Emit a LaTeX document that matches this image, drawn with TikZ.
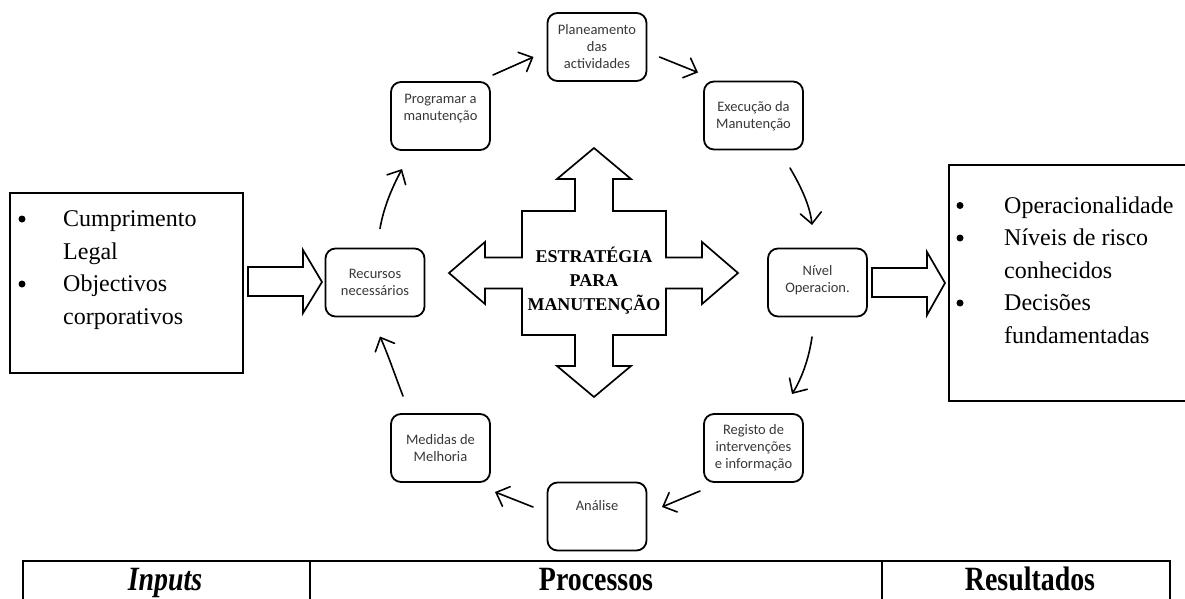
\documentclass[tikz,border=0pt]{standalone}
\usepackage{fontspec}
\setmainfont{Liberation Serif}
\newfontfamily\boxfont{Carlito}
\usetikzlibrary{arrows.meta,calc}
\begin{document}
\begin{tikzpicture}[x=1pt,y=-1pt,
  box/.style={draw, line width=1.8pt, rounded corners=10pt,
    minimum width=99pt, minimum height=68pt, inner sep=0pt, outer sep=0pt},
  boxtext/.style={font=\boxfont\fontsize{14.5}{17}\selectfont, text=black!78,
    align=center, inner sep=0pt},
  flow/.style={line width=1.6pt, line cap=round,
    -{Straight Barb[length=11pt,width=21pt,line cap=round]}},
  frame/.style={draw, line width=1.7pt, inner sep=0pt, outer sep=0pt},
  listtext/.style={font=\fontsize{24}{30}\selectfont, anchor=base west, inner sep=0pt},
  bulletmark/.style={circle, fill, inner sep=0pt, minimum size=7pt},
  shapeline/.style={draw, line width=1.7pt, line join=miter, fill=white},
  headtext/.style={font=\bfseries\fontsize{34}{40}\selectfont, anchor=base, inner sep=0pt},
  tableline/.style={line width=1.8pt}
]
\useasboundingbox (0,0) rectangle (1185,599);

% input and result frames
\node[frame, minimum width=233pt, minimum height=180pt] (inbox) at (126.5,283) {};
\node[frame, minimum width=246pt, minimum height=236pt] (outbox) at (1072,283) {};

\node[bulletmark] (inb1) at (22,219) {};
\node[listtext] (in1) at (63,226.5) {Cumprimento};
\node[listtext] (in2) at (63,259) {Legal};
\node[bulletmark] (inb2) at (22,284) {};
\node[listtext] (in3) at (63,291.5) {Objectivos};
\node[listtext] (in4) at (63,324) {corporativos};

\node[bulletmark] (outb1) at (960,205.5) {};
\node[listtext] (out1) at (1004,213) {Operacionalidade};
\node[bulletmark] (outb2) at (960,238) {};
\node[listtext] (out2) at (1004,245.5) {Níveis de risco};
\node[listtext] (out3) at (1004,278) {conhecidos};
\node[bulletmark] (outb3) at (960,303) {};
\node[listtext] (out4) at (1004,310.5) {Decisões};
\node[listtext] (out5) at (1004,343) {fundamentadas};

% process boxes
\node[box] (rec)   at (375,282.5) {};
\node[box] (prog)  at (440.5,116) {};
\node[box] (plan)  at (597,47) {};
\node[box] (exec)  at (753.5,115.5) {};
\node[box] (nivel) at (817.5,282.5) {};
\node[box] (reg)   at (753.5,448) {};
\node[box] (ana)   at (597,516.5) {};
\node[box] (med)   at (440.5,448) {};

\node[boxtext] (rec-t)   at (375,282) {Recursos\\necessários};
\node[boxtext] (prog-t)  at (440.5,108.5) {Programar a\\manutenção};
\node[boxtext] (plan-t)  at (597,47) {Planeamento\\das\\actividades};
\node[boxtext] (exec-t)  at (753.5,116) {Execução da\\Manutenção};
\node[boxtext] (nivel-t) at (817.5,280) {Nível\\Operacion.};
\node[boxtext] (reg-t)   at (753.5,448) {Registo de\\intervenções\\e informação};
\node[boxtext] (ana-t)   at (597,506) {Análise};
\node[boxtext] (med-t)   at (440.5,448.5) {Medidas de\\Melhoria};

% block arrows
\draw[shapeline, shift={(inbox.east)}]
  (5,-16) -- (60,-16) -- (60,-33) -- (79,-1) -- (60,30) -- (60,13) -- (5,13) -- cycle;
\draw[shapeline, shift={(nivel.east)}]
  (5,-14.5) -- (60,-14.5) -- (60,-30.5) -- (78,0.5) -- (60,32.5) -- (60,14.5) -- (5,14.5) -- cycle;

% central four-way arrow
\draw[shapeline, shift={(594,273)}]
  (0,-125) -- (37,-94) -- (19,-94) -- (19,-62) -- (72,-62) -- (72,-15.5) --
  (108,-15.5) -- (108,-31) -- (144,0) -- (108,31) -- (108,15.5) -- (72,15.5) --
  (72,62) -- (19,62) -- (19,93) -- (37,93) -- (0,124) -- (-37,93) -- (-19,93) --
  (-19,62) -- (-72,62) -- (-72,15.5) -- (-109,15.5) -- (-109,31) -- (-145,0) --
  (-109,-31) -- (-109,-15.5) -- (-72,-15.5) -- (-72,-62) -- (-19,-62) --
  (-19,-94) -- (-37,-94) -- cycle;
\node[font=\bfseries\fontsize{18}{24}\selectfont, align=center, inner sep=0pt]
  (strat) at (594,281) {ESTRATÉGIA\\PARA\\MANUTENÇÃO};

% cycle connectors
\draw[flow] ($(rec.north)+(5,-20)$) .. controls +(4,-23) and +(-9,17) .. ($(prog.south)+(-38.5,19)$);
\draw[flow] ($(prog.north east)+(3,-7)$) -- ($(plan.west)+(-14,10)$);
\draw[flow] ($(plan.east)+(13,10)$) -- ($(exec.north west)+(-6,-9)$);
\draw[flow] ($(exec.south)+(36.5,18.5)$) .. controls +(10,17) and +(-2,-20) .. ($(nivel.north)+(-5.5,-23.5)$);
\draw[flow] ($(nivel.south)+(-5.5,20.5)$) .. controls +(-3,21) and +(10,-16) .. ($(reg.north)+(38.5,-20)$);
\draw[flow] ($(reg.south west)+(-4,9)$) -- ($(ana.east)+(15.5,-9.5)$);
\draw[flow] ($(ana.west)+(-14.5,-9.5)$) -- ($(med.south east)+(5,10)$);
\draw[flow] ($(med.north)+(-37.5,-18)$) .. controls +(-7,-18) and +(8,18) .. ($(rec.south)+(5,20)$);

% bottom table
\draw[tableline] (23,610) -- (23,561) -- (1170,561) -- (1170,610);
\draw[tableline] (310,561) -- (310,610);
\draw[tableline] (882,561) -- (882,610);
\node[headtext] (col1) at (165,590) {\scalebox{0.82}[1]{\textit{Inputs}}};
\node[headtext] (col2) at (596,590) {\scalebox{0.82}[1]{Processos}};
\node[headtext] (col3) at (1030,590) {\scalebox{0.82}[1]{Resultados}};
\end{tikzpicture}
\end{document}
